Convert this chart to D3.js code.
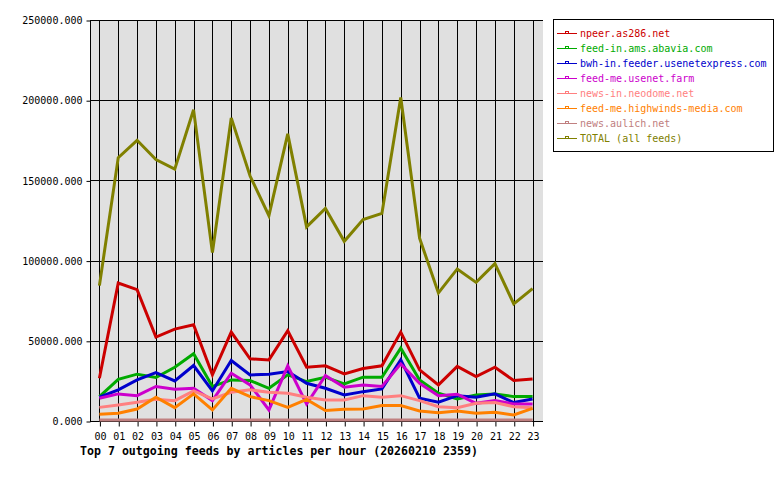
<!DOCTYPE html>
<html>
<head>
<meta charset="utf-8">
<script src="https://cdn.jsdelivr.net/npm/d3@7"></script>
<style>
  body { margin: 0; background: #fff; }
  svg { display: block; font-family: "DejaVu Sans Mono", monospace; }
</style>
</head>
<body>
<div id="chart"></div>
<script>
// hours on the x axis
var hours = ["00","01","02","03","04","05","06","07","08","09","10","11",
             "12","13","14","15","16","17","18","19","20","21","22","23"]

// articles per hour, one array per feed
var npeer     = [26700,86000,81900,52300,57300,60000,28750,55400,38750,38100,56250,33500,34400,29400,32700,34400,55400,31900,22500,34000,27700,33500,25200,26250]
var abavia    = [15200,26000,29200,27100,33500,41900,21500,25600,25200,20400,28750,24600,27300,23100,27300,27300,45400,25600,17300,13750,16250,16900,15200,15200]
var usenetexp = [14800,19400,25600,30200,25000,34600,18750,37700,28750,29200,30800,23500,20400,16250,18300,20000,38100,14200,11700,15800,14800,16900,11500,13750]
var usenetfarm= [14200,16900,15800,21500,19800,20400,12700,29800,22500,6900,34400,10600,28300,21000,22500,21500,35600,23500,15800,16700,11000,12700,10600,10600]
var neodome   = [8500,10000,11700,13500,12700,18750,13750,17900,19400,17900,17300,14800,13100,13100,15800,14800,15800,12700,8900,8300,11000,11500,8900,8300]
var highwinds = [4200,4800,7500,14800,8300,16900,6900,20400,15200,12700,8500,13500,6500,7300,7500,9600,9600,6250,5200,6250,4800,5400,3750,7900]
var aulich    = [600,600,600,600,600,600,600,600,600,600,600,600,600,600,600,600,600,600,600,600,600,600,600,600]
var total     = [84400,164200,175000,163000,157000,194000,105000,189000,152700,128000,179000,121000,132500,112000,125600,129400,201700,114000,79800,94800,86400,98100,73000,82500]

var feedNames = ["npeer.as286.net","feed-in.ams.abavia.com","bwh-in.feeder.usenetexpress.com",
                 "feed-me.usenet.farm","news-in.neodome.net","feed-me.highwinds-media.com",
                 "news.aulich.net","TOTAL (all feeds)"]
var feedColors = ["#cc0000","#00aa00","#0000cc","#cc00cc","#ff8080","#ff8000","#c08080","#808000"]
var yTicks = [0,50000,100000,150000,200000,250000]

var series = [npeer, abavia, usenetexp, usenetfarm, neodome, highwinds, aulich, total]

var plot = {left: 90, right: 543, top: 20, bottom: 421}

var svg = d3.select("#chart").append("svg")
    .attr("width", 780)
    .attr("height", 480)

var xScale = d3.scalePoint().domain(hours).range([plot.left, plot.right - 1]).padding(0.5)
var yScale = d3.scaleLinear().domain([0, 250000]).range([plot.bottom, plot.top])

// plot background
svg.append("rect")
    .attr("x", plot.left).attr("y", plot.top)
    .attr("width", plot.right - plot.left).attr("height", plot.bottom - plot.top)
    .attr("fill", "#e0e0e0")

// grid
svg.append("g").selectAll("line")
    .data(hours).enter().append("line")
    .attr("x1", d => Math.round(xScale(d)) + 0.5).attr("x2", d => Math.round(xScale(d)) + 0.5)
    .attr("y1", plot.top).attr("y2", plot.bottom)
    .attr("stroke", "#000").attr("stroke-width", 1)

svg.append("g").selectAll("line")
    .data(yTicks).enter().append("line")
    .attr("x1", plot.left).attr("x2", plot.right)
    .attr("y1", d => Math.round(yScale(d)) + 0.5).attr("y2", d => Math.round(yScale(d)) + 0.5)
    .attr("stroke", "#000").attr("stroke-width", 1)

// axes
var yAxis = svg.append("g")
    .attr("transform", "translate(" + (plot.left + 0.5) + ",0.5)")
    .call(d3.axisLeft(yScale).tickValues(yTicks).tickSize(4).tickPadding(4).tickFormat(d3.format(".3f")))
var xAxis = svg.append("g")
    .attr("transform", "translate(0.5," + (plot.bottom + 0.5) + ")")
    .call(d3.axisBottom(xScale).tickSize(5).tickPadding(6))

svg.selectAll(".domain").remove()
svg.selectAll(".tick line").attr("stroke", "#000")
svg.selectAll(".tick text")
    .attr("fill", "#000")
    .style("font-family", "'DejaVu Sans Mono', monospace")
    .style("font-size", "10px")

// left and bottom edges of the plot (no right border in the original)
svg.append("line")
    .attr("x1", plot.left + 0.5).attr("x2", plot.left + 0.5)
    .attr("y1", plot.top).attr("y2", plot.bottom + 1)
    .attr("stroke", "#000")
svg.append("line")
    .attr("x1", plot.left).attr("x2", plot.right)
    .attr("y1", plot.bottom + 0.5).attr("y2", plot.bottom + 0.5)
    .attr("stroke", "#000")

// lines
var line = d3.line()
    .x((d, i) => xScale(hours[i]))
    .y(d => yScale(d))

svg.append("g").selectAll("path")
    .data(series).enter().append("path")
    .attr("d", d => line(d))
    .attr("fill", "none")
    .attr("stroke", (d, i) => feedColors[i])
    .attr("stroke-width", 3)
    .attr("stroke-linejoin", "miter")

// title
svg.append("text")
    .attr("x", 80).attr("y", 455)
    .style("font-size", "11.6px")
    .style("font-weight", "bold")
    .text("Top 7 outgoing feeds by articles per hour (20260210 2359)")

// legend
var legend = svg.append("g").attr("class", "legend")
legend.append("rect")
    .attr("x", 553.5).attr("y", 19.5)
    .attr("width", 220).attr("height", 132)
    .attr("fill", "#fff").attr("stroke", "#000")

var item = legend.selectAll(".item")
    .data(feedNames).enter().append("g")
    .attr("class", "item")
    .attr("transform", (d, i) => "translate(0," + (33 + i * 15) + ")")

item.append("line")
    .attr("x1", 557).attr("x2", 577).attr("y1", 0.5).attr("y2", 0.5)
    .attr("stroke", (d, i) => feedColors[i])
item.append("rect")
    .attr("x", 565.5).attr("y", -1.5).attr("width", 3).attr("height", 2)
    .attr("fill", "none")
    .attr("stroke", (d, i) => feedColors[i])
item.append("text")
    .attr("x", 580).attr("y", 4)
    .style("font-size", "10px")
    .attr("fill", (d, i) => feedColors[i])
    .text(d => d)
</script>
</body>
</html>
